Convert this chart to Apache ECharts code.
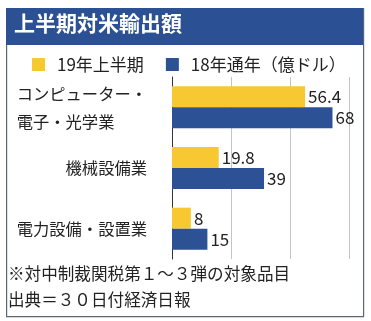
<!DOCTYPE html>
<html><head><meta charset="utf-8">
<script src="https://cdn.jsdelivr.net/npm/echarts@6/dist/echarts.min.js"></script>
<style>html,body{margin:0;padding:0;background:#fff}#c{width:371px;height:321px}</style>
</head><body><div id="c"></div>
<script>
const titleText = '上半期対米輸出額';
const categories = ['コンピューター・\n電子・光学業', '機械設備業', '電力設備・設置業'];
const seriesNames = ['19年上半期', '18年通年（億ドル）'];
const values2019H1 = [56.4, 19.8, 8];
const values2018 = [68, 39, 15];
const notes = ['※対中制裁関税第１～３弾の対象品目', '出典＝３０日付経済日報'];
const FONT = '"Noto Sans CJK JP", sans-serif';

const chart = echarts.init(document.getElementById('c'), null, {renderer: 'canvas'});
chart.setOption({
  backgroundColor: '#fff',
  animation: false,
  textStyle: {fontFamily: FONT},
  title: {
    text: titleText, left: 14, top: 13, padding: 0,
    textStyle: {color: '#fff', fontSize: 21, fontWeight: 'bold', fontFamily: FONT}
  },
  graphic: [
    {type: 'rect', left: 6, top: 8, z: -1, shape: {width: 357, height: 308},
     style: {fill: '#fff', stroke: '#5d6472', lineWidth: 1.2}},
    {type: 'rect', left: 6, top: 8, z: 0, shape: {width: 357, height: 37},
     style: {fill: '#2b5194'}},
    {type: 'text', left: 8, top: 265, style: {text: notes[0], fill: '#222', font: '16.6px ' + FONT}},
    {type: 'text', left: 8, top: 291, style: {text: notes[1], fill: '#222', font: '16.6px ' + FONT}}
  ],
  legend: {
    left: 27, top: 51, icon: 'rect', itemWidth: 13, itemHeight: 13, itemGap: 22,
    textStyle: {fontSize: 17, color: '#222', fontFamily: FONT, padding: [0, 0, 0, 7]},
    data: seriesNames
  },
  grid: {left: 172, right: 22, top: 77, bottom: 62, containLabel: false},
  xAxis: {
    type: 'value', min: 0, max: 75, interval: 25,
    axisLabel: {show: false}, axisTick: {show: false}, axisLine: {show: false},
    splitLine: {show: true, lineStyle: {color: '#c4c4c4', width: 1}}
  },
  yAxis: {
    type: 'category', inverse: true, data: categories,
    axisLine: {show: true, lineStyle: {color: '#333', width: 1}},
    axisTick: {show: false},
    axisLabel: {
      margin: 25, fontSize: 16.3, color: '#222', fontFamily: FONT, lineHeight: 28,
      formatter: function (v) {
        return v.split('\n').map(function (s) { return '{a|' + s + '}'; }).join('\n');
      },
      rich: {a: {align: 'left', fontSize: 16.3, color: '#222', fontFamily: FONT, lineHeight: 28}}
    }
  },
  series: [
    {name: seriesNames[0], type: 'bar', data: values2019H1, barWidth: 21, barGap: '0%',
     itemStyle: {color: '#f8c833'},
     label: {show: true, position: 'right', distance: 3, fontSize: 17, color: '#222', fontFamily: FONT}},
    {name: seriesNames[1], type: 'bar', data: values2018, barWidth: 21, barGap: '0%',
     itemStyle: {color: '#2c5295'},
     label: {show: true, position: 'right', distance: 3, fontSize: 17, color: '#222', fontFamily: FONT}}
  ]
});
</script></body></html>
